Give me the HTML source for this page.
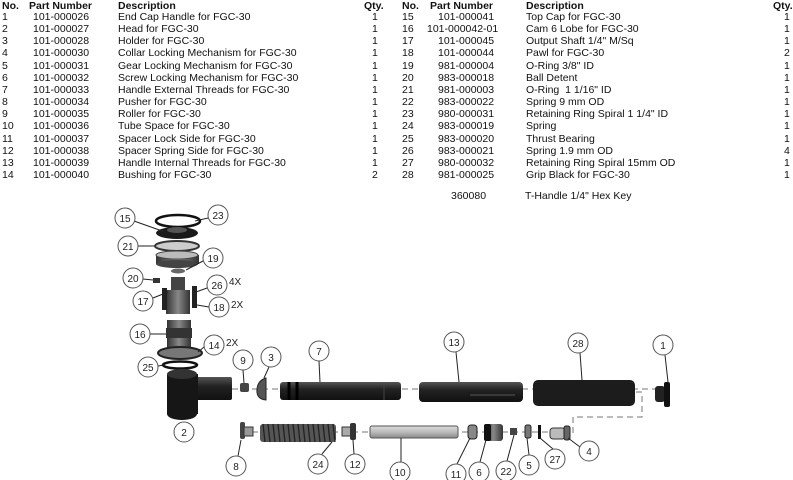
<!DOCTYPE html>
<html><head><meta charset="utf-8">
<style>
html,body{margin:0;padding:0;background:#fff;}
body{width:793px;height:480px;position:relative;overflow:hidden;font-family:"Liberation Sans",Arial,sans-serif;color:#111;}
.t{position:absolute;font-size:10.5px;line-height:12px;white-space:nowrap;}
.h{font-weight:bold;}
svg{position:absolute;left:0;top:0;}
svg text{font-family:"Liberation Sans",Arial,sans-serif;font-size:10px;fill:#222;}
</style></head><body>
<div class="t h" style="left:2px;top:0px">No.</div>
<div class="t h" style="left:29px;top:0px">Part Number</div>
<div class="t h" style="left:118px;top:0px">Description</div>
<div class="t h" style="left:364px;top:0px">Qty.</div>
<div class="t h" style="left:402px;top:0px">No.</div>
<div class="t h" style="left:430px;top:0px">Part Number</div>
<div class="t h" style="left:526px;top:0px">Description</div>
<div class="t h" style="left:773px;top:0px">Qty.</div>

<div class="t" style="left:2px;top:11px;line-height:12.15px">1<br>2<br>3<br>4<br>5<br>6<br>7<br>8<br>9<br>10<br>11<br>12<br>13<br>14</div>
<div class="t" style="left:33px;top:11px;line-height:12.15px">101-000026<br>101-000027<br>101-000028<br>101-000030<br>101-000031<br>101-000032<br>101-000033<br>101-000034<br>101-000035<br>101-000036<br>101-000037<br>101-000038<br>101-000039<br>101-000040</div>
<div class="t" style="left:118px;top:11px;line-height:12.15px">End Cap Handle for FGC-30<br>Head for FGC-30<br>Holder for FGC-30<br>Collar Locking Mechanism for FGC-30<br>Gear Locking Mechanism for FGC-30<br>Screw Locking Mechanism for FGC-30<br>Handle External Threads for FGC-30<br>Pusher for FGC-30<br>Roller for FGC-30<br>Tube Space for FGC-30<br>Spacer Lock Side for FGC-30<br>Spacer Spring Side for FGC-30<br>Handle Internal Threads for FGC-30<br>Bushing for FGC-30</div>
<div class="t" style="left:372px;top:11px;line-height:12.15px">1<br>1<br>1<br>1<br>1<br>1<br>1<br>1<br>1<br>1<br>1<br>1<br>1<br>2</div>

<div class="t" style="left:402px;top:11px;line-height:12.15px">15<br>16<br>17<br>18<br>19<br>20<br>21<br>22<br>23<br>24<br>25<br>26<br>27<br>28</div>
<div class="t" style="left:438px;top:11px;line-height:12.15px">101-000041<br><span style="margin-left:-11px">101-000042-01</span><br>101-000045<br>101-000044<br>981-000004<br>983-000018<br>981-000003<br>983-000022<br>980-000031<br>983-000019<br>983-000020<br>983-000021<br>980-000032<br>981-000025</div>
<div class="t" style="left:526px;top:11px;line-height:12.15px">Top Cap for FGC-30<br>Cam 6 Lobe for FGC-30<br>Output Shaft 1/4" M/Sq<br>Pawl for FGC-30<br>O-Ring 3/8" ID<br>Ball Detent<br>O-Ring&nbsp; 1 1/16" ID<br>Spring 9 mm OD<br>Retaining Ring Spiral 1 1/4" ID<br>Spring<br>Thrust Bearing<br>Spring 1.9 mm OD<br>Retaining Ring Spiral 15mm OD<br>Grip Black for FGC-30</div>
<div class="t" style="left:784px;top:11px;line-height:12.15px">1<br>1<br>1<br>2<br>1<br>1<br>1<br>1<br>1<br>1<br>1<br>4<br>1<br>1</div>
<div class="t" style="left:451px;top:190px">360080</div>
<div class="t" style="left:525px;top:190px">T-Handle 1/4" Hex Key</div>

<svg width="793" height="480" viewBox="0 0 793 480">
<defs>
<linearGradient id="dk" x1="0" y1="0" x2="0" y2="1"><stop offset="0" stop-color="#555"/><stop offset="0.4" stop-color="#222"/><stop offset="1" stop-color="#111"/></linearGradient>
<linearGradient id="lt" x1="0" y1="0" x2="0" y2="1"><stop offset="0" stop-color="#ddd"/><stop offset="0.5" stop-color="#bbb"/><stop offset="1" stop-color="#888"/></linearGradient>
<linearGradient id="md" x1="0" y1="0" x2="1" y2="0"><stop offset="0" stop-color="#333"/><stop offset="0.5" stop-color="#888"/><stop offset="1" stop-color="#333"/></linearGradient>
</defs>
<g stroke="#777" stroke-width="1" stroke-dasharray="6,4" fill="none">
<line x1="232" y1="389" x2="656" y2="389"/>
<line x1="252" y1="432" x2="550" y2="432"/>
<polyline points="636,392 642,392 642,417 573,417 573,433"/>
</g>
<ellipse cx="178" cy="221" rx="22" ry="6" fill="none" stroke="#111" stroke-width="2.5"/>
<ellipse cx="177" cy="233" rx="21" ry="6" fill="#1a1a1a"/>
<ellipse cx="177" cy="230" rx="10" ry="3" fill="#555"/>
<ellipse cx="177" cy="246" rx="22" ry="5" fill="#ccc" stroke="#333" stroke-width="2"/>
<rect x="156" y="255" width="43" height="9" fill="url(#md)"/>
<ellipse cx="177" cy="255" rx="21" ry="4" fill="#bbb" stroke="#444"/>
<ellipse cx="177" cy="264" rx="21" ry="4" fill="#444"/>
<ellipse cx="178" cy="271" rx="7" ry="2.5" fill="#666"/>
<rect x="153" y="278" width="7" height="5" fill="#333"/>
<rect x="171" y="277" width="14" height="14" fill="#444"/>
<rect x="166" y="290" width="24" height="24" fill="url(#md)"/>
<rect x="162" y="288" width="5" height="22" fill="#222"/>
<rect x="192" y="286" width="5" height="22" fill="#222"/>
<rect x="167" y="320" width="24" height="30" fill="url(#md)"/>
<rect x="166" y="328" width="26" height="10" fill="#333"/>
<ellipse cx="180" cy="353" rx="22" ry="6" fill="#777" stroke="#222" stroke-width="2"/>
<ellipse cx="180" cy="365" rx="17" ry="3.5" fill="none" stroke="#111" stroke-width="2.5"/>
<rect x="195" y="377" width="37" height="23" rx="2" fill="url(#dk)"/>
<rect x="167" y="374" width="31" height="40" fill="#161616"/>
<ellipse cx="182" cy="374" rx="15" ry="5" fill="#333"/>
<ellipse cx="182" cy="414" rx="15" ry="6" fill="#161616"/>
<rect x="240" y="383" width="9" height="9" rx="2" fill="#444"/>
<path d="M266 378 L266 400 Q256 399 257 389 Q258 380 266 378Z" fill="#555" stroke="#222"/>
<rect x="280" y="382" width="121" height="18" rx="3" fill="url(#dk)"/>
<line x1="289" y1="382" x2="289" y2="400" stroke="#000" stroke-width="3"/>
<line x1="297" y1="382" x2="297" y2="400" stroke="#000" stroke-width="3"/>
<line x1="384" y1="383" x2="384" y2="400" stroke="#444"/>
<rect x="419" y="382" width="104" height="20" rx="4" fill="url(#dk)"/>
<line x1="470" y1="395" x2="515" y2="395" stroke="#555"/>
<rect x="533" y="380" width="102" height="26" rx="5" fill="#1c1c1c"/>
<rect x="655" y="386" width="10" height="16" rx="3" fill="#222"/>
<rect x="664" y="382" width="6" height="25" rx="2" fill="#111"/>
<rect x="240" y="422" width="5" height="17" rx="2" fill="#444"/>
<rect x="244" y="427" width="9" height="9" fill="#999" stroke="#333"/>
<rect x="260" y="424" width="76" height="18" rx="3" fill="#555"/>
<g stroke="#222" stroke-width="1.3">
<path d="M263 424 L265 442 M268 424 L270 442 M273 424 L275 442 M278 424 L280 442 M283 424 L285 442 M288 424 L290 442 M293 424 L295 442 M298 424 L300 442 M303 424 L305 442 M308 424 L310 442 M313 424 L315 442 M318 424 L320 442 M323 424 L325 442 M328 424 L330 442 M333 424 L335 442"/>
</g>
<rect x="342" y="427" width="9" height="9" fill="#aaa" stroke="#333"/>
<rect x="350" y="423" width="6" height="17" rx="2" fill="#333"/>
<rect x="370" y="426" width="88" height="12" rx="2" fill="url(#lt)" stroke="#555"/>
<rect x="468" y="425" width="9" height="14" rx="3" fill="#888" stroke="#222"/>
<rect x="484" y="424" width="19" height="17" rx="3" fill="url(#md)"/>
<rect x="484" y="424" width="7" height="17" rx="2" fill="#111"/>
<rect x="510" y="428" width="7" height="7" fill="#444"/>
<rect x="525" y="425" width="6" height="13" rx="2" fill="#777" stroke="#222"/>
<rect x="538" y="425" width="3" height="14" fill="#111"/>
<rect x="550" y="428" width="15" height="11" rx="3" fill="#bbb" stroke="#333"/>
<rect x="564" y="426" width="6" height="14" rx="2" fill="#666" stroke="#222"/>
<g stroke="#222" stroke-width="1" fill="none">
<line x1="134" y1="221" x2="165" y2="232"/>
<line x1="208" y1="218" x2="195" y2="221"/>
<line x1="138" y1="246" x2="155" y2="246"/>
<line x1="203" y1="261" x2="186" y2="270"/>
<line x1="143" y1="279" x2="153" y2="280"/>
<line x1="207" y1="288" x2="196" y2="292"/>
<line x1="153" y1="298" x2="168" y2="292"/>
<line x1="209" y1="307" x2="197" y2="305"/>
<line x1="150" y1="334" x2="166" y2="334"/>
<line x1="204" y1="347" x2="198" y2="352"/>
<line x1="158" y1="366" x2="164" y2="365"/>
<line x1="243" y1="370" x2="244" y2="383"/>
<line x1="269" y1="367" x2="264" y2="378"/>
<line x1="319" y1="361" x2="320" y2="382"/>
<line x1="456" y1="352" x2="459" y2="382"/>
<line x1="580" y1="353" x2="582" y2="380"/>
<line x1="665" y1="355" x2="668" y2="382"/>
<line x1="238" y1="456" x2="241" y2="440"/>
<line x1="322" y1="454" x2="332" y2="442"/>
<line x1="354" y1="454" x2="353" y2="440"/>
<line x1="401" y1="462" x2="401" y2="438"/>
<line x1="457" y1="464" x2="470" y2="438"/>
<line x1="480" y1="462" x2="486" y2="440"/>
<line x1="507" y1="461" x2="514" y2="435"/>
<line x1="529" y1="455" x2="527" y2="438"/>
<line x1="553" y1="449" x2="540" y2="438"/>
<line x1="580" y1="447" x2="568" y2="438"/>
</g>
<g fill="#fff" stroke="#555" stroke-width="1">
<circle cx="125" cy="218" r="10"/><circle cx="218" cy="215" r="10"/><circle cx="128" cy="246" r="10"/>
<circle cx="213" cy="258" r="10"/><circle cx="133" cy="278" r="10"/><circle cx="217" cy="285" r="10"/>
<circle cx="143" cy="301" r="10"/><circle cx="219" cy="307" r="10"/><circle cx="140" cy="334" r="10"/>
<circle cx="214" cy="345" r="10"/><circle cx="148" cy="367" r="10"/><circle cx="243" cy="360" r="10"/>
<circle cx="271" cy="357" r="10"/><circle cx="319" cy="351" r="10"/><circle cx="454" cy="342" r="10"/>
<circle cx="578" cy="343" r="10"/><circle cx="663" cy="345" r="10"/><circle cx="184" cy="432" r="10"/>
<circle cx="236" cy="466" r="10"/><circle cx="318" cy="464" r="10"/><circle cx="355" cy="464" r="10"/>
<circle cx="400" cy="472" r="10"/><circle cx="456" cy="474" r="10"/><circle cx="479" cy="472" r="10"/>
<circle cx="506" cy="471" r="10"/><circle cx="529" cy="465" r="10"/><circle cx="555" cy="459" r="10"/>
<circle cx="589" cy="451" r="10"/>
</g>
<g text-anchor="middle">
<text x="125" y="222">15</text><text x="218" y="219">23</text><text x="128" y="250">21</text>
<text x="213" y="262">19</text><text x="133" y="282">20</text><text x="217" y="289">26</text>
<text x="143" y="305">17</text><text x="219" y="311">18</text><text x="140" y="338">16</text>
<text x="214" y="349">14</text><text x="148" y="371">25</text><text x="243" y="364">9</text>
<text x="271" y="361">3</text><text x="319" y="355">7</text><text x="454" y="346">13</text>
<text x="578" y="347">28</text><text x="663" y="349">1</text><text x="184" y="436">2</text>
<text x="236" y="470">8</text><text x="318" y="468">24</text><text x="355" y="468">12</text>
<text x="400" y="476">10</text><text x="456" y="478">11</text><text x="479" y="476">6</text>
<text x="506" y="475">22</text><text x="529" y="469">5</text><text x="555" y="463">27</text>
<text x="589" y="455">4</text>
</g>
<text x="229" y="285" font-size="9">4X</text>
<text x="231" y="308" font-size="9">2X</text>
<text x="226" y="346" font-size="9">2X</text>
</svg>
</body></html>
